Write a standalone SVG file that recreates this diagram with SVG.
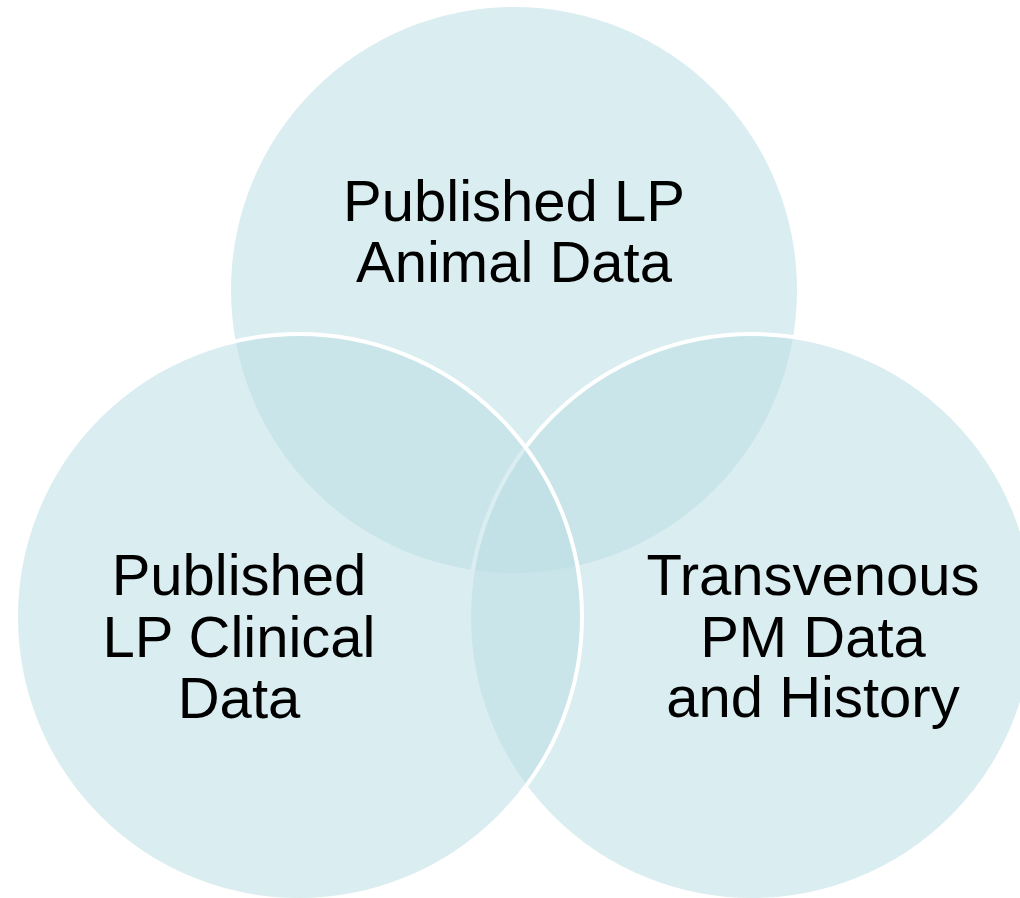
<svg xmlns="http://www.w3.org/2000/svg" width="1020" height="898" viewBox="0 0 1020 898">
<style>
.c{fill:rgb(188,222,227);fill-opacity:0.55}
.s{stroke:#fff;stroke-width:4}
.t{font-family:"Liberation Sans",Arial,sans-serif;font-size:58px;fill:#000;text-anchor:middle}
</style>
<rect width="1020" height="898" fill="#fff"/>
<g id="node-top">
<circle class="c" cx="514" cy="290" r="283"/>
</g>
<g id="node-right">
<circle class="c s" cx="752" cy="617" r="283"/>
</g>
<g id="node-left">
<circle class="c s" cx="299" cy="617" r="283"/>
</g>
<g id="connectors"></g>
<g id="labels">
<g id="label-top">
<text class="t" x="514" y="221">Published LP</text>
<text class="t" x="514" y="282">Animal Data</text>
</g>
<g id="label-left">
<text class="t" x="239" y="595">Published</text>
<text class="t" x="239" y="657">LP Clinical</text>
<text class="t" x="239" y="718">Data</text>
</g>
<g id="label-right">
<text class="t" x="813" y="595">Transvenous</text>
<text class="t" x="813" y="657">PM Data</text>
<text class="t" x="813" y="717">and History</text>
</g>
</g>
</svg>
